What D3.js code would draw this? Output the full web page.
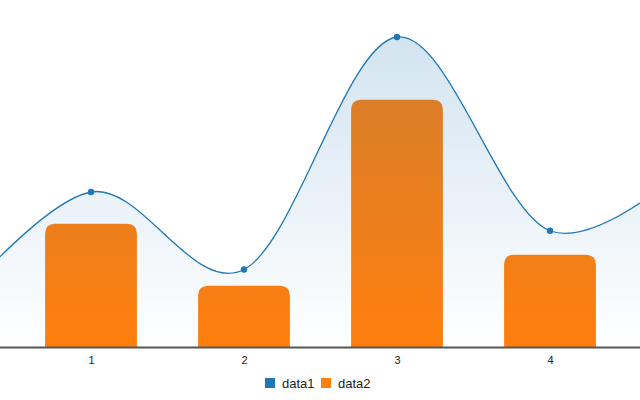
<!DOCTYPE html>
<html><head><meta charset="utf-8">
<script src="https://cdn.jsdelivr.net/npm/d3@7"></script>
<style>body{margin:0;background:#fff}svg{display:block;font-family:"Liberation Sans",Arial,sans-serif}</style>
</head><body>
<svg id="c" width="640" height="400"></svg>
<script>
const xIndex = [0, 1, 2, 3, 4, 5];
const data1 = [30, 200, 100, 400, 150, 250];
const barIndex = [1, 2, 3, 4];
const data2 = [159, 79, 319, 119];
const tickValues = [1, 2, 3, 4];
const tickLabels = ["1", "2", "3", "4"];
const seriesNames = ["data1", "data2"];
const colors = ["#1f77b4", "#ff7f0e"];

const svg = d3.select("#c");
const W = 640, baseY = 347;
const x = d3.scaleLinear().domain([1 - 91/153, 4 + 90/153]).range([0, W]);
const y = d3.scaleLinear().domain([0, 400]).range([baseY, 37]);
const step = x(2) - x(1);
const bw = step * 0.6;

const defs = svg.append("defs");
const g1 = defs.append("linearGradient").attr("id","ag").attr("x1",0).attr("y1",0).attr("x2",0).attr("y2",1);
g1.append("stop").attr("offset",0).attr("stop-color",colors[0]).attr("stop-opacity",0.2);
g1.append("stop").attr("offset",1).attr("stop-color",colors[0]).attr("stop-opacity",0);
defs.append("clipPath").attr("id","cl").append("rect").attr("x",0).attr("y",0).attr("width",W).attr("height",baseY);

const plot = svg.append("g").attr("clip-path","url(#cl)");

// bars (rounded top)
const r = 10;
plot.selectAll("path.bar").data(barIndex.map((d,i)=>({x:d,v:data2[i]}))).join("path")
  .attr("class","bar").attr("fill",colors[1])
  .attr("d", d => {
    const x0 = x(d.x) - bw/2, x1 = x(d.x) + bw/2, yt = y(d.v), yb = y(0);
    return `M${x0},${yb}V${yt+r}Q${x0},${yt} ${x0+r},${yt}H${x1-r}Q${x1},${yt} ${x1},${yt+r}V${yb}Z`;
  });

const pts = xIndex.map((d,i)=>[d, data1[i]]);
const area = d3.area().curve(d3.curveCardinal).x(d=>x(d[0])).y0(y(0)).y1(d=>y(d[1]));
const line = d3.line().curve(d3.curveCardinal).x(d=>x(d[0])).y(d=>y(d[1]));
plot.append("path").attr("d", area(pts)).attr("fill","url(#ag)");
plot.append("path").attr("d", line(pts)).attr("fill","none").attr("stroke",colors[0]).attr("stroke-width",1.3);
plot.selectAll("circle").data(pts).join("circle")
  .attr("cx",d=>x(d[0])).attr("cy",d=>y(d[1])).attr("r",3.2).attr("fill",colors[0]);

// x axis
const ax = svg.append("g").attr("transform",`translate(0,${baseY})`)
  .call(d3.axisBottom(x).tickValues(tickValues).tickFormat((d,i)=>tickLabels[i]).tickSize(0).tickPadding(9));
ax.select(".domain").attr("stroke","#555").attr("stroke-width",2).attr("d",`M0,0.5H${W}`);
ax.selectAll("text").attr("font-size",11).attr("fill","#222").attr("font-family","Liberation Sans, Arial, sans-serif");

// legend
const lg = svg.append("g");
const items = [{n:seriesNames[0],c:colors[0],x:265},{n:seriesNames[1],c:colors[1],x:321}];
items.forEach(it=>{
  lg.append("rect").attr("x",it.x).attr("y",378).attr("width",10).attr("height",10).attr("fill",it.c);
  lg.append("text").attr("x",it.x+17).attr("y",388).attr("font-size",13).attr("fill","#222").text(it.n);
});
</script>
</body></html>
